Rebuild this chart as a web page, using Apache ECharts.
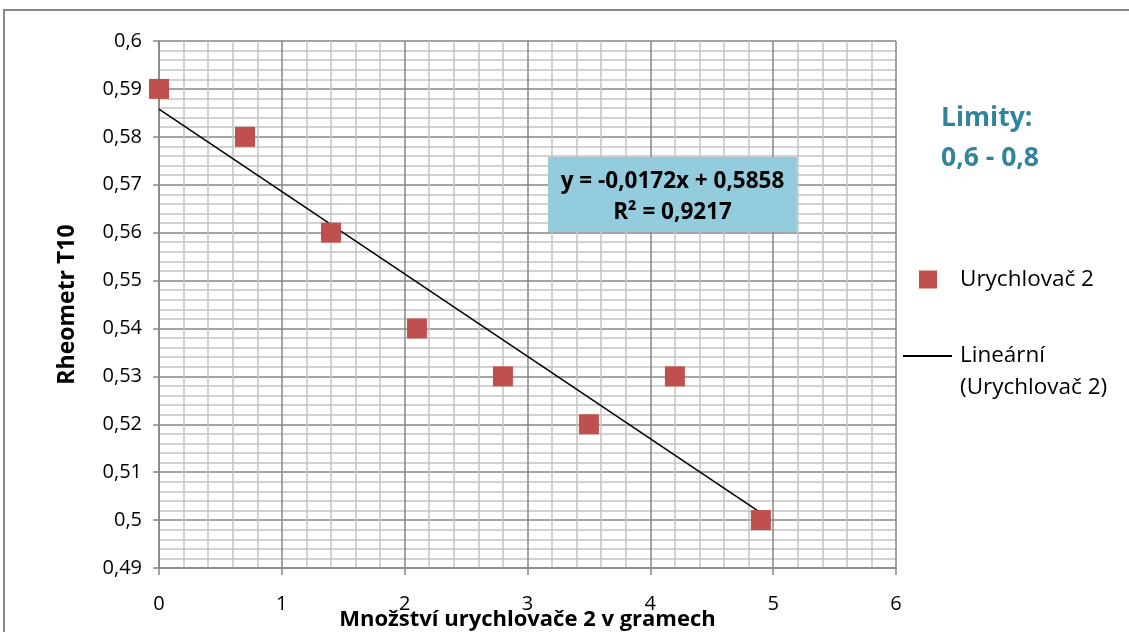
<!DOCTYPE html>
<html>
<head>
<meta charset="utf-8">
<script src="https://cdn.jsdelivr.net/npm/echarts@6/dist/echarts.min.js"></script>
<style>
  html, body { margin: 0; padding: 0; background: #fff; }
  #chart { width: 1129px; height: 632px; }
</style>
</head>
<body>
<div id="chart"></div>
<script>
// Accelerator amount (g) vs. rheometer T10
const amounts = [0, 0.7, 1.4, 2.1, 2.8, 3.5, 4.2, 4.9];
const t10Values = [0.59, 0.58, 0.56, 0.54, 0.53, 0.52, 0.53, 0.50];

// Linear trend (least squares) as stated in the equation box
const trendSlope = -0.0172;
const trendIntercept = 0.5858;
const rSquared = 0.9217;

// Axis ranges / ticks
const xTicks = [0, 1, 2, 3, 4, 5, 6];
const yTicks = [0.49, 0.50, 0.51, 0.52, 0.53, 0.54, 0.55, 0.56, 0.57, 0.58, 0.59, 0.60];

const seriesName = 'Urychlovač 2';
const trendName = 'Lineární (Urychlovač 2)';
const limitsText = ['Limity:', '0,6 - 0,8'];

const FONT = '"Open Sans", Lato, sans-serif';
const comma = v => String(+(+v).toFixed(4)).replace('.', ',');

const xMin = Math.min(...amounts), xMax = Math.max(...amounts);
const trendData = [xMin, xMax].map(x => [x, trendIntercept + trendSlope * x]);

const chart = echarts.init(document.getElementById('chart'), null, { renderer: 'canvas' });

chart.setOption({
  backgroundColor: '#fff',
  animation: false,
  textStyle: { fontFamily: FONT },
  grid: { left: 159, top: 41, width: 737, height: 527, containLabel: false, outerBoundsMode: 'none' },
  title: {
    text: limitsText.join('\n'),
    left: 941, top: 98, padding: 0,
    textStyle: { fontFamily: FONT, fontSize: 26.5, fontWeight: 'bold', color: '#31849B', lineHeight: 40 }
  },
  legend: [
    {
      data: [{ name: seriesName, icon: 'rect' }],
      left: 919, top: 268, padding: 0,
      itemWidth: 18, itemHeight: 18,
      textStyle: { fontFamily: FONT, fontSize: 22.5, color: '#000', padding: [0, 0, 0, 18] }
    },
    {
      data: [{ name: trendName, icon: 'rect' }],
      left: 903, top: 308, padding: 0,
      itemWidth: 49, itemHeight: 2,
      formatter: () => '\nLineární\n(Urychlovač 2)',
      textStyle: { fontFamily: FONT, fontSize: 22.5, color: '#000', lineHeight: 32, padding: [0, 0, 0, 3] }
    }
  ],
  xAxis: {
    type: 'value',
    min: xTicks[0], max: xTicks[xTicks.length - 1], interval: xTicks[1] - xTicks[0],
    name: 'Množství urychlovače 2 v gramech',
    nameLocation: 'middle', nameGap: 41, nameMoveOverlap: false,
    nameTextStyle: { fontFamily: FONT, fontSize: 22, fontWeight: 'bold', color: '#000' },
    axisLine: { show: true, onZero: false, lineStyle: { color: '#868686', width: 1.5 } },
    axisTick: { show: true, length: 7, lineStyle: { color: '#868686', width: 1.5 } },
    axisLabel: { margin: 26, fontFamily: FONT, fontSize: 20, color: '#000', formatter: comma },
    splitLine: { show: true, lineStyle: { color: '#868686', width: 1.5 } },
    minorTick: { show: false, splitNumber: 5 },
    minorSplitLine: { show: true, lineStyle: { color: '#C4C4C4', width: 1.5 } }
  },
  yAxis: {
    type: 'value',
    min: yTicks[0], max: yTicks[yTicks.length - 1], interval: 0.01,
    name: 'Rheometr T10',
    nameLocation: 'middle', nameGap: 80, nameMoveOverlap: false,
    nameTextStyle: { fontFamily: FONT, fontSize: 23, fontWeight: 'bold', color: '#000' },
    axisLine: { show: true, onZero: false, lineStyle: { color: '#868686', width: 1.5 } },
    axisTick: { show: true, length: 6, lineStyle: { color: '#868686', width: 1.5 } },
    axisLabel: { margin: 17, fontFamily: FONT, fontSize: 20, color: '#000', formatter: comma },
    splitLine: { show: true, lineStyle: { color: '#868686', width: 1.5 } },
    minorTick: { show: false, splitNumber: 5 },
    minorSplitLine: { show: true, lineStyle: { color: '#C4C4C4', width: 1.5 } }
  },
  series: [
    {
      name: trendName,
      type: 'line',
      data: trendData,
      symbol: 'none',
      color: '#000',
      lineStyle: { color: '#000', width: 1.5 },
      z: 2
    },
    {
      name: seriesName,
      type: 'scatter',
      data: amounts.map((x, i) => [x, t10Values[i]]),
      symbol: 'rect',
      symbolSize: 20,
      itemStyle: { color: '#C0504D', opacity: 1 },
      z: 3
    }
  ],
  graphic: [
    {
      type: 'rect',
      shape: { x: 4, y: 10, width: 2000, height: 2000 },
      style: { fill: null, stroke: '#888', lineWidth: 2 },
      silent: true, z: 10
    },
    {
      type: 'rect',
      shape: { x: 548, y: 157, width: 249, height: 75 },
      style: { fill: '#93CDDD' },
      z: 50
    },
    {
      type: 'text',
      x: 672.5, y: 197,
      z: 51,
      style: {
        text: 'y = ' + comma(trendSlope) + 'x + ' + comma(trendIntercept) + '\nR² = ' + comma(rSquared),
        fontFamily: FONT, fontSize: 22.5, fontWeight: 'bold', fill: '#000',
        align: 'center', verticalAlign: 'middle', lineHeight: 31
      }
    }
  ]
});
</script>
</body>
</html>
